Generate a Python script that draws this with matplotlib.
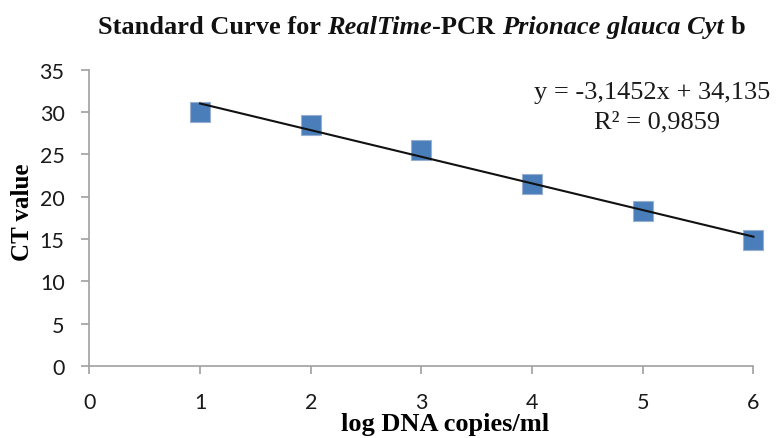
# -*- coding: utf-8 -*-
"""Standard curve plot for the Prionace glauca Cyt b real-time PCR."""

import numpy as np
import matplotlib
matplotlib.use('Agg')
import matplotlib.pyplot as plt

# data
log_copies = [1, 2, 3, 4, 5, 6]
ct_values = [30.0, 28.5, 25.5, 21.5, 18.35, 14.85]

# trend line reported on the chart
slope = -3.1452
intercept = 34.135
r_squared = 0.9859

x_ticks = [0, 1, 2, 3, 4, 5, 6]
y_ticks = [0, 5, 10, 15, 20, 25, 30, 35]

# title pieces: (text, font style)
title_parts = [('Standard Curve for', 'normal'), ('RealTime', 'italic'),
               ('-PCR', 'normal'), ('Prionace glauca Cyt', 'italic'),
               ('b', 'normal')]
title_gaps = [True, False, True, True]  # space after each piece?


def comma(value, digits):
    # excel output uses a decimal comma
    return f'{value:.{digits}f}'.replace('.', ',')


W, H = 778, 439
fig = plt.figure(figsize=(W / 100, H / 100), dpi=100)
ax = fig.add_axes([0.1148, 0.164, 0.8537, 0.6754])

ax.plot(log_copies, ct_values, linestyle='none', marker='s', markersize=14.5,
        markerfacecolor='#4a7ebb', markeredgecolor='#98afd0', markeredgewidth=0.8,
        zorder=2, clip_on=False)

x_fit = np.array([min(log_copies), max(log_copies)])
ax.plot(x_fit, slope * x_fit + intercept, color='#111111', linewidth=1.5, zorder=3,
        clip_on=False)

ax.set_xlim(0, 6)
ax.set_ylim(0, 35)
ax.set_xticks(x_ticks)
ax.set_yticks(y_ticks)

for side in ['top', 'right']:
    ax.spines[side].set_visible(False)
for side in ['left', 'bottom']:
    ax.spines[side].set_color('#a0a0a0')
    ax.spines[side].set_linewidth(1.2)

ax.tick_params(axis='both', direction='out', length=5.8, width=1.2, color='#a0a0a0',
               labelsize=15.5, labelcolor='#1a1a1a')
ax.tick_params(axis='x', pad=13)
ax.tick_params(axis='y', pad=12)
for label in ax.get_xticklabels() + ax.get_yticklabels():
    label.set_family('Lato')

ax.set_xlabel('log DNA copies/ml', family='Liberation Serif', fontweight='bold',
              fontsize=19, va='baseline')
ax.xaxis.set_label_coords(0.5355, -0.215)
ax.set_ylabel('CT value', family='Liberation Serif', fontweight='bold',
              fontsize=18, va='center')
ax.yaxis.set_label_coords(-0.101, 0.523)

# title built piece by piece so the italic parts stay bold
title_style = dict(family='Liberation Serif', fontweight='bold', fontsize=19,
                   va='baseline', ha='left', color='#111111')
renderer = fig.canvas.get_renderer()


def text_width(s, style):
    t = fig.text(0, 0, s, fontstyle=style, **title_style)
    w = t.get_window_extent(renderer).width
    t.remove()
    return w


space = text_width('x x', 'normal') - text_width('xx', 'normal')
widths = [text_width(s, st) for s, st in title_parts]
total = sum(widths) + space * sum(title_gaps)
x_px = 421.5 - total / 2
for i, (s, st) in enumerate(title_parts):
    fig.text(x_px / W, 1 - 34 / H, s, fontstyle=st, **title_style)
    x_px += widths[i]
    if i < len(title_gaps) and title_gaps[i]:
        x_px += space

fig.text(0.8387, 1 - 99.3 / H,
         f'y = {comma(slope, 4)}x + {comma(intercept, 3)}',
         ha='center', va='baseline', family='Liberation Serif', fontsize=19,
         color='#1a1a1a')
fig.text(0.8441, 1 - 128.3 / H, f'R² = {comma(r_squared, 4)}',
         ha='center', va='baseline', family='Liberation Serif', fontsize=19,
         color='#1a1a1a')

fig.savefig('out.png', dpi=100)
